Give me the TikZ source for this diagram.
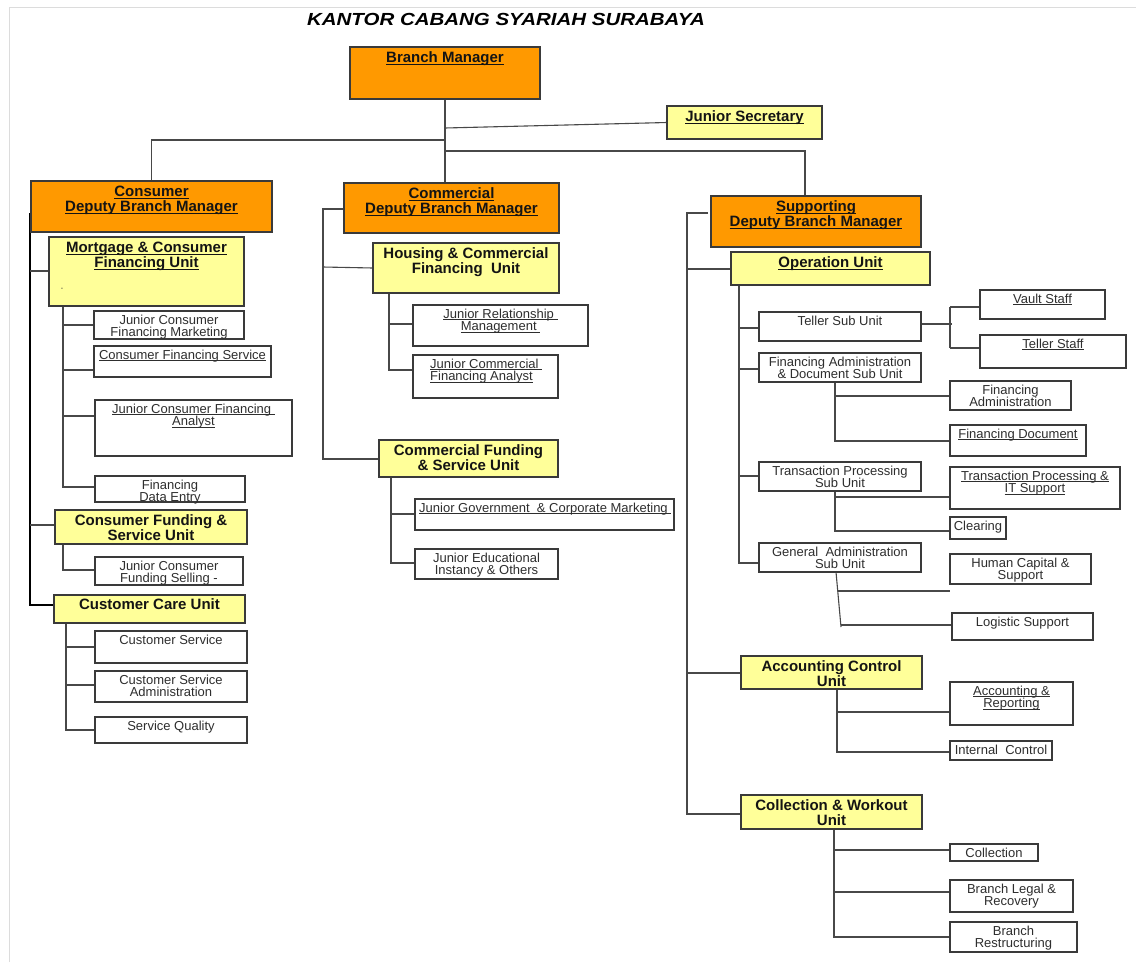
\documentclass[tikz,border=0pt]{standalone}
\usepackage{fontspec}
\setmainfont{Liberation Sans}
\usetikzlibrary{backgrounds}
\definecolor{orgO}{HTML}{FF9900}
\definecolor{orgY}{HTML}{FFFF99}
\definecolor{edgec}{HTML}{3A3A3A}
\definecolor{wirec}{HTML}{484848}
\definecolor{framec}{HTML}{DCDCDC}
\definecolor{txtc}{HTML}{2E2E2E}
\definecolor{htxtc}{HTML}{141414}
\newcommand\ulin[1]{\setbox0\hbox{#1}\rlap{\vrule height -1.4pt depth 2.3pt width \wd0}\box0}
\newcommand\boxonly[6]{\node[#1, minimum width={#4pt-#2pt}, minimum height={#5pt-#3pt}] (#6) at ({(#2+#4)/2},{(#3+#5)/2}) {};}
\newcommand\orgnode[8]{\boxonly{#1}{#2}{#3}{#4}{#5}{#6}\node[#7] (#6-t) at ({(#2+#4)/2},#3) {#8};}
\tikzset{
 boxbase/.style={draw=edgec, line width=1.1pt, inner sep=0pt, outer sep=0pt, rectangle},
 obox/.style={boxbase, fill=orgO},
 ybox/.style={boxbase, fill=orgY},
 wbox/.style={boxbase, fill=white},
 htext/.style={anchor=north, yshift=-4.6pt, inner sep=0pt, align=center, text=htxtc, font=\bfseries\fontsize{15}{15}\selectfont},
 stext/.style={anchor=north, yshift=-3.4pt, inner sep=0pt, align=center, text=txtc, font=\fontsize{13}{12.2}\selectfont},
 wire/.style={draw=wirec, line width=1.1pt},
}
\begin{document}
\begin{tikzpicture}[x=1pt,y=-1pt]
\useasboundingbox (0,0) rectangle (1136,962);
\node[font=\bfseries\itshape\fontsize{17.5}{20}\selectfont, inner sep=0pt] (title) at (506,19) {\scalebox{1.17}[1]{KANTOR CABANG SYARIAH SURABAYA}};

% orange boxes
\orgnode{obox}{350}{47}{540}{99}{bm}{htext}{\ulin{Branch Manager}}
\orgnode{obox}{31}{181}{272}{232}{cdbm}{htext}{\ulin{Consumer}\\\ulin{Deputy Branch Manager}}
\orgnode{obox}{344}{183}{559}{233}{comdbm}{htext}{\ulin{Commercial}\\\ulin{Deputy Branch Manager}}
\orgnode{obox}{711}{196}{921}{247}{sdbm}{htext}{\ulin{Supporting}\\\ulin{Deputy Branch Manager}}

% yellow boxes
\orgnode{ybox}{667}{106}{822}{139}{jsec}{htext}{\ulin{Junior Secretary}}
\orgnode{ybox}{49}{237}{244}{306}{mort}{htext}{\ulin{Mortgage \& Consumer}\\\ulin{Financing Unit}}
\node[inner sep=0pt, font=\fontsize{7}{7}\selectfont, text=txtc] (mortdot) at (62,289) {-};
\orgnode{ybox}{55}{510}{247}{544}{cfsu}{htext}{Consumer Funding \&\\Service Unit}
\orgnode{ybox}{54}{595}{245}{623}{ccu}{htext, yshift=1pt}{Customer Care Unit}
\orgnode{ybox}{373}{243}{559}{293}{hcfu}{htext}{Housing \& Commercial\\Financing\ \ Unit}
\orgnode{ybox}{379}{440}{558}{477}{comfsu}{htext}{Commercial Funding\\\& Service Unit}
\orgnode{ybox}{731}{252}{930}{285}{opu}{htext}{\ulin{Operation Unit}}
\orgnode{ybox}{741}{656}{922}{689}{acu}{htext}{Accounting Control\\Unit}
\orgnode{ybox}{741}{795}{922}{829}{cwu}{htext}{Collection \& Workout\\Unit}

% white boxes - consumer
\orgnode{wbox}{94}{311}{244}{339}{jcfm}{stext}{Junior Consumer\\Financing Marketing}
\orgnode{wbox}{94}{346}{271}{377}{cfs}{stext}{\ulin{Consumer Financing Service}}
\orgnode{wbox}{95}{400}{292}{456}{jcfa}{stext}{\ulin{Junior Consumer Financing }\\\ulin{Analyst}}
\orgnode{wbox}{95}{476}{245}{502}{fde}{stext}{Financing\\Data Entry}
\orgnode{wbox}{95}{557}{243}{585}{jcfs}{stext}{Junior Consumer\\Funding Selling -}
\orgnode{wbox}{95}{631}{247}{663}{cs}{stext}{Customer Service}
\orgnode{wbox}{95}{671}{247}{702}{csa}{stext}{Customer Service\\Administration}
\orgnode{wbox}{95}{717}{247}{743}{sq}{stext}{Service Quality}

% white boxes - commercial
\orgnode{wbox}{413}{305}{588}{346}{jrm}{stext}{\ulin{Junior Relationship }\\\ulin{Management }}
\boxonly{wbox}{413}{355}{558}{398}{jcomfa}
\node[stext, anchor=north west, align=left] (jcomfa-t) at (430,355) {\ulin{Junior Commercial }\\\ulin{Financing Analyst}};
\boxonly{wbox}{415}{499}{674}{530}{jgcm}
\node[stext, anchor=north west, align=left] (jgcm-t) at (419,499) {\ulin{Junior Government\ \ \& Corporate Marketing }};
\orgnode{wbox}{415}{549}{558}{579}{jeio}{stext}{Junior Educational\\Instancy \& Others}

% white boxes - supporting
\orgnode{wbox}{759}{312}{921}{341}{tsu}{stext}{Teller Sub Unit}
\orgnode{wbox}{759}{353}{921}{382}{fadsu}{stext}{Financing Administration\\\& Document Sub Unit}
\orgnode{wbox}{759}{462}{921}{491}{tpsu}{stext}{Transaction Processing\\Sub Unit}
\orgnode{wbox}{759}{543}{921}{572}{gasu}{stext}{General\ \ Administration\\Sub Unit}
\orgnode{wbox}{980}{290}{1105}{319}{vs}{stext}{\ulin{Vault Staff}}
\orgnode{wbox}{980}{335}{1126}{368}{ts}{stext}{\ulin{Teller Staff}}
\orgnode{wbox}{950}{381}{1071}{410}{fa}{stext}{Financing\\Administration}
\orgnode{wbox}{950}{425}{1086}{456}{fd}{stext}{\ulin{Financing Document}}
\orgnode{wbox}{950}{467}{1120}{509}{tpit}{stext}{\ulin{Transaction Processing \&}\\\ulin{IT Support}}
\orgnode{wbox}{950}{517}{1006}{539}{clr}{stext}{Clearing}
\orgnode{wbox}{950}{554}{1091}{584}{hcs}{stext}{Human Capital \&\\Support}
\orgnode{wbox}{952}{613}{1093}{640}{ls}{stext}{Logistic Support}
\orgnode{wbox}{950}{682}{1073}{725}{ar}{stext}{\ulin{Accounting \&}\\\ulin{Reporting}}
\orgnode{wbox}{950}{741}{1052}{760}{ic}{stext}{Internal\ \ Control}
\orgnode{wbox}{950}{844}{1038}{861}{col}{stext}{Collection}
\orgnode{wbox}{950}{880}{1073}{912}{blr}{stext}{Branch Legal \&\\Recovery}
\orgnode{wbox}{950}{922}{1077}{952}{br}{stext}{Branch\\Restructuring}

\begin{scope}[on background layer]
\fill[white] (0,0) rectangle (1136,962);
\draw[draw=framec, line width=1pt] (9,962) -- (9,7) -- (1136,7);
% top
\draw[wire] (bm.south) -- (bm.south |- comdbm.north);
\coordinate (jA) at (445,128);
\draw[wire] (jA) -- (jsec.west);
\coordinate (tA) at (445,140);
\draw[wire] (tA) -| (cdbm.north);
\coordinate (tB) at (445,151);
\coordinate (sIn) at (805,196);
\draw[wire] (tB) -| (sIn);
% consumer
\coordinate (cT) at (30,213); \coordinate (cB) at (30,605);
\draw[wire, draw=black] (cT) -- (cB) -- (cB -| ccu.west);
\coordinate (c1) at (30,271); \draw[wire] (c1) -- (c1 -| mort.west);
\coordinate (c2) at (30,525); \draw[wire] (c2) -- (c2 -| cfsu.west);
\coordinate (m0) at (63,306); \coordinate (m4) at (63,487);
\draw[wire] (m0) -- (m4) -- (m4 -| fde.west);
\coordinate (m1) at (63,325); \draw[wire] (m1) -- (m1 -| jcfm.west);
\coordinate (m2) at (63,370); \draw[wire] (m2) -- (m2 -| cfs.west);
\coordinate (m3) at (63,416); \draw[wire] (m3) -- (m3 -| jcfa.west);
\coordinate (f0) at (63,544); \coordinate (f1) at (63,570);
\draw[wire] (f0) -- (f1) -- (f1 -| jcfs.west);
\coordinate (u0) at (66,623); \coordinate (u3) at (66,730);
\draw[wire] (u0) -- (u3) -- (u3 -| sq.west);
\coordinate (u1) at (66,647); \draw[wire] (u1) -- (u1 -| cs.west);
\coordinate (u2) at (66,685); \draw[wire] (u2) -- (u2 -| csa.west);
% commercial
\coordinate (k0) at (344,209); \coordinate (k1) at (323,209); \coordinate (k2) at (323,459);
\draw[wire] (k0) -- (k1) -- (k2) -- (k2 -| comfsu.west);
\coordinate (kH) at (323,267); \draw[wire] (kH) -- (hcfu.west);
\coordinate (h0) at (389,293); \coordinate (h2) at (389,370);
\draw[wire] (h0) -- (h2) -- (h2 -| jcomfa.west);
\coordinate (h1) at (389,324); \draw[wire] (h1) -- (h1 -| jrm.west);
\coordinate (g0) at (391,477); \coordinate (g2) at (391,563);
\draw[wire] (g0) -- (g2) -- (g2 -| jeio.west);
\coordinate (g1) at (391,514); \draw[wire] (g1) -- (g1 -| jgcm.west);
% supporting
\coordinate (s0) at (708,213); \coordinate (s1) at (687,213); \coordinate (s4) at (687,814);
\draw[wire] (s0) -- (s1) -- (s4) -- (s4 -| cwu.west);
\coordinate (s2) at (687,269); \draw[wire] (s2) -- (s2 -| opu.west);
\coordinate (s3) at (687,673); \draw[wire] (s3) -- (s3 -| acu.west);
\coordinate (o0) at (739,285); \coordinate (o4) at (739,563);
\draw[wire] (o0) -- (o4) -- (o4 -| gasu.west);
\coordinate (o1) at (739,328); \draw[wire] (o1) -- (o1 -| tsu.west);
\coordinate (o2) at (739,369); \draw[wire] (o2) -- (o2 -| fadsu.west);
\coordinate (o3) at (739,476); \draw[wire] (o3) -- (o3 -| tpsu.west);
\coordinate (t0) at (921,324); \coordinate (t1) at (952,324);
\draw[wire] (t0) -- (t1);
\coordinate (tv0) at (950,307); \coordinate (tv1) at (950,348);
\draw[wire] (tv0) -- (tv1);
\draw[wire] (tv0) -- (tv0 -| vs.west);
\draw[wire] (tv1) -- (tv1 -| ts.west);
\coordinate (a0) at (835,382); \coordinate (a2) at (835,441);
\draw[wire] (a0) -- (a2) -- (a2 -| fd.west);
\coordinate (a1) at (835,396); \draw[wire] (a1) -- (a1 -| fa.west);
\coordinate (p0) at (835,491); \coordinate (p2) at (835,531);
\draw[wire] (p0) -- (p2) -- (p2 -| clr.west);
\coordinate (p1) at (835,497); \draw[wire] (p1) -- (p1 -| tpit.west);
\coordinate (q0) at (836,572); \coordinate (q2) at (841,627);
\draw[wire] (q0) -- (q2);
\coordinate (q1) at (837.7,591); \draw[wire] (q1) -- (q1 -| hcs.west);
\coordinate (q3) at (841,625); \draw[wire] (q3) -- (q3 -| ls.west);
\coordinate (r0) at (837,689); \coordinate (r2) at (837,752);
\draw[wire] (r0) -- (r2) -- (r2 -| ic.west);
\coordinate (r1) at (837,712); \draw[wire] (r1) -- (r1 -| ar.west);
\coordinate (w0) at (834,829); \coordinate (w3) at (834,937);
\draw[wire] (w0) -- (w3) -- (w3 -| br.west);
\coordinate (w1) at (834,850); \draw[wire] (w1) -- (w1 -| col.west);
\coordinate (w2) at (834,892); \draw[wire] (w2) -- (w2 -| blr.west);
\end{scope}
\end{tikzpicture}
\end{document}
